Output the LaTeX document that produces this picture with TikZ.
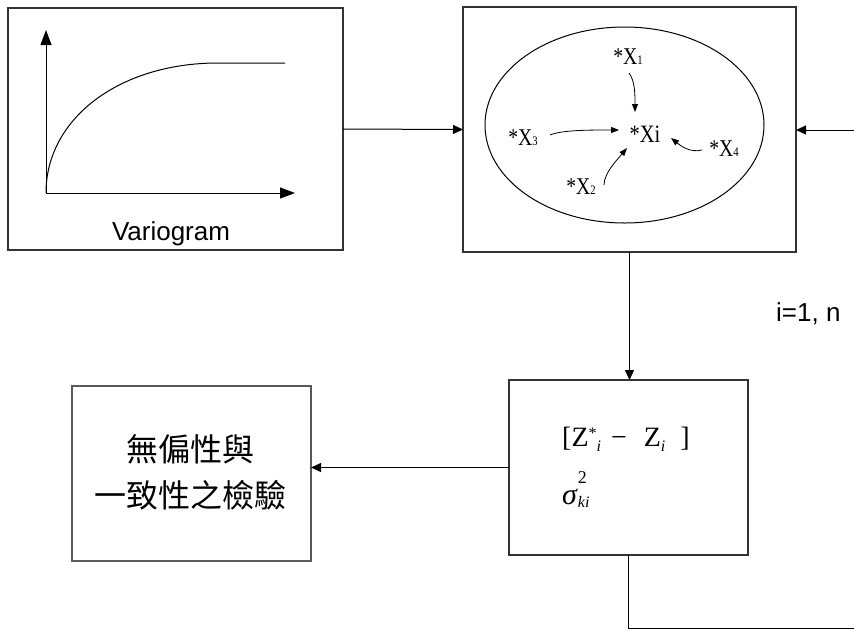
\documentclass[tikz,border=0pt]{standalone}
\usepackage{fontspec}
\usepackage{graphicx}
\setmainfont{Liberation Serif}
\newfontfamily\arialf{Liberation Sans}
\newfontfamily\cjk{Noto Sans CJK TC}
\usetikzlibrary{arrows.meta,shapes.geometric}
\newcommand\fsz[1]{\fontsize{#1}{#1}\selectfont}
\newcommand\narrowtxt[1]{\scalebox{0.82}[1]{#1}}
\begin{document}
\begin{tikzpicture}[x=1pt,y=-1pt,
  box/.style={draw=black!80,line width=1.2pt,inner sep=0pt,outer sep=0pt},
  arr/.style={line width=1pt,-{Triangle[length=10pt,width=9pt]}},
  smallarr/.style={line width=0.8pt,-{Triangle[length=8pt,width=6pt]}},
  axarr/.style={line width=1pt,-{Triangle[length=15pt,width=11pt]}},
  lab/.style={font=\fsz{24},inner sep=0pt},
  sans/.style={font=\arialf\fsz{26},inner sep=0pt},
  cjktext/.style={font=\cjk\fsz{32},inner sep=0pt}]
\useasboundingbox (0,0) rectangle (854,630);
\fill[white] (0,0) rectangle (854,630);
% boxes
\node[box,minimum width=335pt,minimum height=242pt] (vario) at (175.5,129) {};
\node[box,minimum width=333pt,minimum height=245pt] (krig) at (629.5,129.5) {};
\node[box,minimum width=239pt,minimum height=175pt] (err) at (628.5,467.5) {};
\node[box,draw=black!65,minimum width=239pt,minimum height=175pt] (test) at (191.5,473.5) {};
% variogram plot
\coordinate (orig) at (46,193);
\coordinate (ytip) at (46,30);
\coordinate (xtip) at (295,193);
\coordinate (sill) at (218,63);
\coordinate (sillend) at (285,63);
\draw[axarr] (orig) -- (ytip);
\draw[axarr] (orig) -- (xtip);
\draw[line width=1pt] (orig) .. controls (46,118) and (120,63) .. (sill) -- (sillend);
\node[sans,anchor=base] (vlabel) at (171,240) {Variogram};
% ellipse and neighbours
\node[draw,ellipse,line width=1pt,minimum width=279pt,minimum height=196pt,inner sep=0pt] (zone) at (624.5,125) {};
\node[lab] (x1) at (628,57) {\narrowtxt{*X{\fsz{13}1}}};
\node[lab,font=\fsz{25}] (xi) at (645,134) {\narrowtxt{*Xi}};
\node[lab] (x3) at (523,138) {\narrowtxt{*X{\fsz{13}3}}};
\node[lab] (x4) at (724,149) {\narrowtxt{*X{\fsz{13}4}}};
\node[lab] (x2) at (581,187) {\narrowtxt{*X{\fsz{13}2}}};
\draw[smallarr] ([shift={(1,16)}]x1.center) .. controls +(6,8) and +(0,-18) .. ([shift={(-10,-22)}]xi.center);
\draw[smallarr] ([shift={(27,-3)}]x3.center) .. controls +(12,-5) and +(-30,0) .. ([shift={(-26,-4)}]xi.center);
\draw[smallarr] ([shift={(23,-2)}]x2.center) .. controls +(0,-12) and +(-10,12) .. ([shift={(-18,14)}]xi.center);
\draw[smallarr] ([shift={(-22,1)}]x4.center) .. controls +(-12,3) and +(10,8) .. ([shift={(26,4)}]xi.center);
% error box contents
\node[anchor=base west,inner sep=0pt,font=\fsz{28}] (zline) at (562,446)
  {[Z\raisebox{8pt}{\fsz{16}*}\raisebox{-5pt}{\fsz{16}\itshape i}\hspace{10pt}−\hspace{17pt}Z\raisebox{-5pt}{\fsz{16}\itshape i}\hspace{15pt}]};
\node[anchor=base west,inner sep=0pt,font=\fsz{30}] (sline) at (562,504)
  {\textit{σ}\rlap{\raisebox{21pt}{\fsz{18}\upshape 2}}\raisebox{-3pt}{\fsz{16}\itshape ki}};
% test box text
\node[cjktext] (t1) at (190,449.5) {無偏性與};
\node[cjktext] (t2) at (190,495) {一致性之檢驗};
% label
\node[sans,anchor=base west] (iter) at (776,321) {i=1, n};
% connectors
\coordinate (rin) at (854,130);
\coordinate (rout) at (854,628);
\draw[arr] (vario.east) -- (krig.west);
\draw[arr] (rin) -- (rin -| krig.east);
\draw[arr] (krig.south) -- (krig.south |- err.north);
\draw[arr] (err.west) -- (err.west -| test.east);
\draw[line width=1pt] (err.south) -- (err.south |- rout) -- (rout);
\end{tikzpicture}
\end{document}
